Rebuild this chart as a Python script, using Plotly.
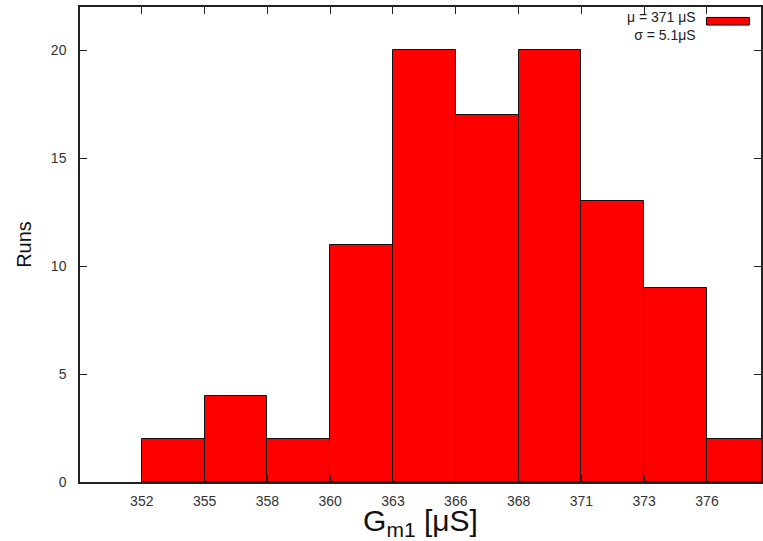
import plotly.graph_objects as go

bin_labels = ["352", "355", "358", "360", "363", "366", "368", "371", "373", "376"]
runs = [2, 4, 2, 11, 20, 17, 20, 13, 9, 2]
y_ticks = [0, 5, 10, 15, 20]
legend_lines = ["\u03bc = 371 \u03bcS", "\u03c3 = 5.1\u03bcS"]

bin_left = list(range(len(runs)))
bin_center = [i + 0.5 for i in bin_left]

fig = go.Figure()
fig.add_trace(go.Bar(
    x=bin_center, y=runs, width=1.0,
    marker=dict(color="#ff0000", line=dict(color="#111111", width=1)),
    showlegend=False,
))

font = "Liberation Sans, Arial, sans-serif"
fig.update_layout(
    width=763, height=541,
    margin=dict(l=80, r=0, t=7, b=59),
    plot_bgcolor="white", paper_bgcolor="white",
    font=dict(family=font, color="#333333"),
    bargap=0,
    xaxis=dict(
        range=[-0.984, 9.86],
        tickmode="array", tickvals=bin_left, ticktext=bin_labels,
        ticks="inside", ticklen=7, tickcolor="#222", tickwidth=1,
        showline=True, linecolor="#222", linewidth=1.5, mirror="ticks",
        showgrid=False, zeroline=False,
        tickfont=dict(size=14, color="#333"),
        ticklabelstandoff=5,
        title=dict(text="G<sub>m1</sub> [\u03bcS]", font=dict(size=30, color="#111"), standoff=3),
    ),
    yaxis=dict(
        range=[0, 22],
        tickmode="array", tickvals=y_ticks,
        ticks="inside", ticklen=7, tickcolor="#222", tickwidth=1,
        showline=True, linecolor="#222", linewidth=1.5, mirror="ticks",
        showgrid=False, zeroline=False,
        tickfont=dict(size=14, color="#333"),
        ticklabelstandoff=9,
        title=dict(text="Runs", font=dict(size=20, color="#111"), standoff=14),
    ),
)

fig.add_annotation(
    xref="paper", yref="paper", x=0.908, y=1.0, xanchor="right", yanchor="top",
    text="<br>".join(legend_lines), showarrow=False, align="right",
    font=dict(size=14, color="#222", family=font),
)
fig.add_shape(
    type="rect", xref="paper", yref="paper",
    x0=0.920, x1=0.983, y0=0.962, y1=0.978,
    fillcolor="#ff0000", line=dict(color="#000", width=1),
)

fig.write_html("out.html")
